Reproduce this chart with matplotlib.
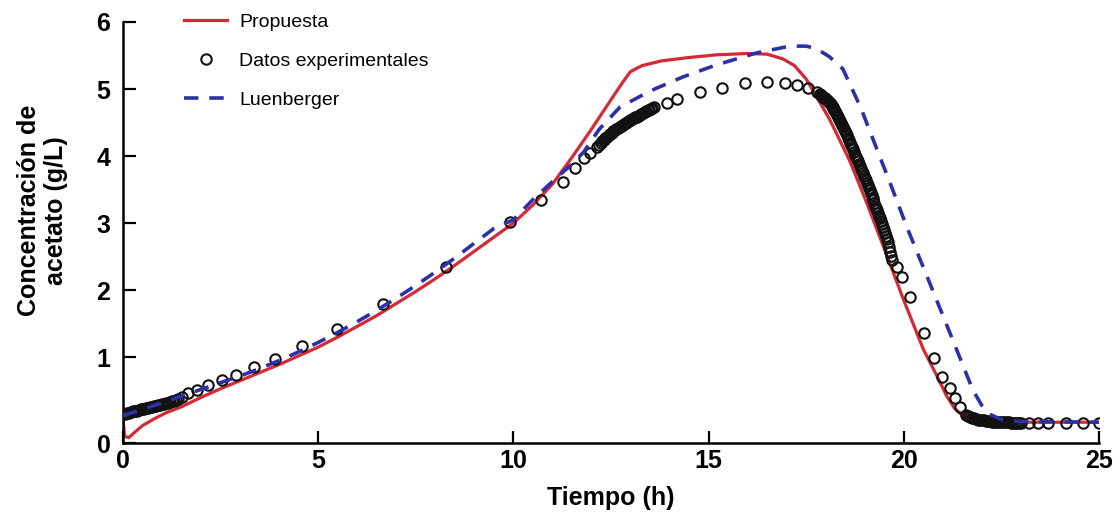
import matplotlib
matplotlib.use("Agg")
import matplotlib.pyplot as plt

plt.rcParams['font.family'] = ['Liberation Sans Narrow', 'Liberation Sans', 'DejaVu Sans']

# Datos experimentales (tiempo en h, acetato en g/L), por tramos
t_exp_ini = [0.00, 0.05, 0.10, 0.15, 0.20, 0.25, 0.30, 0.35, 0.40, 0.45,
             0.50, 0.55, 0.60, 0.65, 0.70, 0.75, 0.80, 0.85, 0.90, 0.95,
             1.00, 1.05, 1.10, 1.15, 1.20, 1.25, 1.30, 1.35, 1.40]
c_exp_ini = [0.15, 0.16, 0.17, 0.17, 0.18, 0.19, 0.19, 0.20, 0.21, 0.22,
             0.22, 0.23, 0.24, 0.24, 0.25, 0.26, 0.27, 0.27, 0.28, 0.29,
             0.30, 0.30, 0.31, 0.32, 0.33, 0.34, 0.35, 0.36, 0.38]

t_exp_sub = [1.50, 1.67, 1.90, 2.18, 2.53, 2.90, 3.36, 3.90, 4.58, 5.48, 6.66,
             8.27, 9.91, 10.70, 11.27, 11.58, 11.80, 11.96, 12.14]
c_exp_sub = [0.41, 0.46, 0.51, 0.58, 0.66, 0.73, 0.85, 0.98, 1.17, 1.42, 1.80,
             2.34, 3.01, 3.34, 3.61, 3.82, 3.97, 4.04, 4.13]

t_exp_cod = [12.20, 12.24, 12.28, 12.32, 12.36, 12.40, 12.44, 12.48, 12.52,
             12.56, 12.60, 12.64, 12.68, 12.72, 12.76, 12.80, 12.84, 12.88,
             12.92, 12.96, 13.00, 13.04, 13.08, 13.12, 13.16, 13.20, 13.24,
             13.28, 13.32, 13.36, 13.40, 13.44, 13.48, 13.52, 13.56, 13.60]
c_exp_cod = [4.16, 4.19, 4.22, 4.24, 4.27, 4.29, 4.31, 4.33, 4.35,
             4.37, 4.39, 4.41, 4.42, 4.44, 4.45, 4.47, 4.48, 4.50,
             4.51, 4.53, 4.54, 4.55, 4.57, 4.58, 4.59, 4.60, 4.62,
             4.63, 4.64, 4.65, 4.67, 4.68, 4.69, 4.70, 4.72, 4.73]

t_exp_max = [13.93, 14.20, 14.78, 15.34, 15.93, 16.50, 16.96, 17.26, 17.55, 17.77]
c_exp_max = [4.79, 4.85, 4.96, 5.01, 5.09, 5.10, 5.09, 5.06, 5.01, 4.96]

t_exp_baj = [17.850, 17.875, 17.900, 17.925, 17.950, 17.975, 18.000, 18.025,
             18.050, 18.075, 18.100, 18.125, 18.150, 18.175, 18.200, 18.225,
             18.250, 18.275, 18.300, 18.325, 18.350, 18.375, 18.400, 18.425,
             18.450, 18.475, 18.500, 18.525, 18.550, 18.575, 18.600, 18.625,
             18.650, 18.675, 18.700, 18.725, 18.750, 18.775, 18.800, 18.825,
             18.850, 18.875, 18.900, 18.925, 18.950, 18.975, 19.000, 19.025,
             19.050, 19.075, 19.100, 19.125, 19.150, 19.175, 19.200, 19.225,
             19.250, 19.275, 19.300, 19.325, 19.350, 19.375, 19.400, 19.425,
             19.450, 19.475, 19.500, 19.525, 19.550, 19.575, 19.600, 19.625,
             19.650, 19.675, 19.700]
c_exp_baj = [4.92, 4.91, 4.90, 4.88, 4.87, 4.86, 4.85, 4.83,
             4.82, 4.80, 4.79, 4.77, 4.75, 4.73, 4.72, 4.69,
             4.67, 4.64, 4.62, 4.59, 4.56, 4.53, 4.50, 4.47,
             4.44, 4.41, 4.37, 4.34, 4.31, 4.27, 4.24, 4.20,
             4.17, 4.13, 4.10, 4.06, 4.02, 3.99, 3.95, 3.92,
             3.88, 3.85, 3.81, 3.78, 3.75, 3.71, 3.68, 3.64,
             3.60, 3.57, 3.53, 3.49, 3.45, 3.42, 3.38, 3.34,
             3.30, 3.26, 3.22, 3.19, 3.15, 3.11, 3.07, 3.03,
             2.98, 2.94, 2.90, 2.85, 2.81, 2.76, 2.72, 2.65,
             2.57, 2.51, 2.45]

t_exp_fin = [19.83, 19.95, 20.16, 20.52, 20.77, 20.98, 21.18, 21.31, 21.44,
             21.60, 21.65, 21.70, 21.75, 21.80, 21.85, 21.90, 21.95, 22.00,
             22.05, 22.10, 22.15, 22.20, 22.25, 22.30, 22.35, 22.40, 22.45,
             22.50, 22.55, 22.60, 22.65, 22.70, 22.75, 22.80, 22.85, 22.90,
             22.95, 23.00, 23.20, 23.45, 23.70, 24.15, 24.60, 25.00]
c_exp_fin = [2.34, 2.19, 1.90, 1.36, 0.99, 0.70, 0.54, 0.39, 0.25,
             0.14, 0.12, 0.11, 0.10, 0.09, 0.08, 0.07, 0.07, 0.06,
             0.06, 0.05, 0.05, 0.05, 0.04, 0.04, 0.04, 0.04, 0.03,
             0.03, 0.03, 0.03, 0.03, 0.03, 0.02, 0.02, 0.02, 0.02,
             0.02, 0.02, 0.02, 0.02, 0.02, 0.02, 0.02, 0.02]

# Estimador propuesto
t_prop = [0.00, 0.04, 0.15, 0.30, 0.50, 0.80, 1.10, 1.50, 2.00, 2.50, 3.00,
          3.50, 4.00, 4.50, 5.00, 5.50, 6.00, 6.50, 7.00, 7.50, 8.00, 8.50,
          9.00, 9.50, 10.00, 10.50, 11.00, 11.50, 12.00, 12.50, 12.80, 13.00,
          13.30, 13.80, 14.50, 15.20, 16.00, 16.50, 16.90, 17.20, 17.50, 17.80,
          18.10, 18.60, 19.00, 19.50, 20.00, 20.50, 20.85, 21.10, 21.30, 21.50,
          21.70, 22.00, 22.50, 25.00]
c_prop = [0.10, -0.18, -0.20, -0.12, -0.02, 0.08, 0.17, 0.26, 0.40, 0.53, 0.65,
          0.77, 0.89, 1.02, 1.15, 1.30, 1.46, 1.62, 1.80, 1.98, 2.17, 2.37,
          2.58, 2.79, 3.00, 3.27, 3.58, 3.98, 4.40, 4.84, 5.10, 5.26,
          5.35, 5.42, 5.47, 5.51, 5.53, 5.52, 5.45, 5.35, 5.15, 4.85,
          4.55, 3.95, 3.38, 2.62, 1.85, 1.12, 0.72, 0.42, 0.24, 0.13,
          0.08, 0.05, 0.03, 0.03]

# Observador de Luenberger
t_luen = [0.00, 0.50, 1.00, 1.50, 2.00, 2.50, 3.00, 3.50, 4.00, 4.50, 5.00,
          5.50, 6.00, 6.50, 7.00, 7.50, 8.00, 8.50, 9.00, 9.50, 10.00, 10.50,
          11.00, 11.50, 11.80, 12.20, 12.73, 13.50, 14.34, 15.20, 16.24, 17.08,
          17.50, 17.77, 18.10, 18.44, 18.90, 19.30, 19.65, 20.08, 20.67, 21.26,
          21.77, 22.00, 22.20, 22.50, 23.00, 25.00]
c_luen = [0.13, 0.22, 0.32, 0.42, 0.52, 0.62, 0.72, 0.83, 0.95, 1.08, 1.22,
          1.37, 1.53, 1.70, 1.88, 2.07, 2.27, 2.48, 2.70, 2.92, 3.05, 3.35,
          3.62, 3.88, 4.06, 4.40, 4.73, 4.97, 5.18, 5.36, 5.54, 5.64,
          5.64, 5.60, 5.48, 5.30, 4.72, 4.12, 3.60, 2.94, 2.10, 1.25,
          0.51, 0.28, 0.15, 0.07, 0.04, 0.03]

x_ticks = [0, 5, 10, 15, 20, 25]
y_ticks = [1, 2, 3, 4, 5, 6]
y_min = -0.28

t_exp = t_exp_ini + t_exp_sub + t_exp_cod + t_exp_max + t_exp_baj + t_exp_fin
c_exp = c_exp_ini + c_exp_sub + c_exp_cod + c_exp_max + c_exp_baj + c_exp_fin

fig = plt.figure(figsize=(11.2, 5.21), dpi=100)
ax = fig.add_axes([0.1098, 0.1497, 0.8714, 0.8081])

ax.plot(t_prop, c_prop, color='#d42a35', lw=2.3, label='Propuesta', zorder=2)
ax.plot(t_exp, c_exp, ls='none', marker='o', ms=7.5, mfc='none', mec='#111111',
        mew=1.5, label='Datos experimentales', zorder=3)
ax.plot(t_luen, c_luen, color='#2e30a8', lw=2.6, dashes=(4, 3),
        label='Luenberger', zorder=4)

ax.set_xlim(0, 25)
ax.set_ylim(y_min, 6)
ax.set_xticks(x_ticks)
ax.set_xticklabels([str(v) for v in x_ticks])
# el "0" del eje y va en la esquina inferior
ax.set_yticks([y_min] + y_ticks)
ax.set_yticklabels(['0'] + [str(v) for v in y_ticks])

for side in ['top', 'right']:
    ax.spines[side].set_visible(False)
for side in ['left', 'bottom']:
    ax.spines[side].set_linewidth(1.8)
ax.tick_params(direction='in', length=9, width=1.6, labelsize=18)
ax.tick_params(axis='y', pad=9)
ax.tick_params(axis='x', pad=4)
for lbl in ax.get_xticklabels() + ax.get_yticklabels():
    lbl.set_fontweight('bold')

ax.set_xlabel('Tiempo (h)', fontsize=18, fontweight='bold', labelpad=10)
ax.set_ylabel('Concentración de\nacetato (g/L)', fontsize=18,
              fontweight='bold', linespacing=1.2)
ax.yaxis.set_label_coords(-0.056, 0.553)

ax.legend(loc='upper left', bbox_to_anchor=(0.063, 1.02), frameon=False,
          fontsize=14, handlelength=2.2, handletextpad=0.6, labelspacing=1.1,
          borderpad=0, borderaxespad=0, numpoints=1)

fig.savefig('out.png', dpi=100)
